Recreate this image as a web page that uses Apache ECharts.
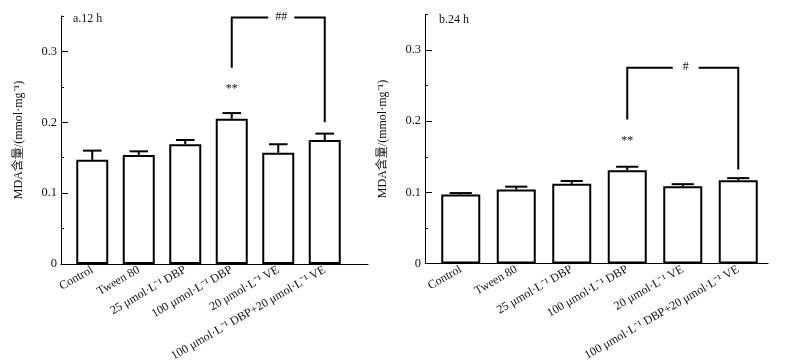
<!DOCTYPE html>
<html>
<head>
<meta charset="utf-8">
<script src="https://cdn.jsdelivr.net/npm/echarts@6/dist/echarts.min.js"></script>
<style>
  html, body { margin: 0; padding: 0; background: #fff; }
  #chart { width: 802px; height: 362px; }
</style>
</head>
<body>
<div id="chart"></div>
<script>
const groups = [
  "Control",
  "Tween 80",
  "25 μmol·L⁻¹ DBP",
  "100 μmol·L⁻¹ DBP",
  "20 μmol·L⁻¹ VE",
  "100 μmol·L⁻¹ DBP+20 μmol·L⁻¹ VE",
];
const mda12h = [0.147, 0.154, 0.169, 0.205, 0.157, 0.175];
const err12h = [0.013, 0.005, 0.006, 0.008, 0.012, 0.009];
const mda24h = [0.097, 0.104, 0.112, 0.131, 0.1085, 0.117];
const err24h = [0.002, 0.004, 0.004, 0.005, 0.003, 0.003];
const majorTicks = [0, 0.1, 0.2, 0.3];
const minorTicks = [0.05, 0.15, 0.25, 0.35];
// stars: [category, y, text]
const star12h = [[3, 0.247, "**"]];
const star24h = [[3, 0.173, "**"]];
// brackets: [from, to, top, left end, right end, text]
const bracket12h = [[3, 5, 0.348, 0.277, 0.2, "##"]];
const bracket24h = [[3, 5, 0.275, 0.2025, 0.132, "#"]];

const FONT = "Liberation Serif, Noto Sans CJK SC, serif";
const INK = "#111";

var myChart = echarts.init(document.getElementById("chart"));

// one panel = bar grid + a grid that only draws the longer x axis line
const panels = [
  { title: "a.12 h", titleX: 73, titleY: 13, barLeft: 69, barWidthPx: 279, lineLeft: 61, lineWidth: 307,
    top: 16, height: 248, bw: 32, mda: mda12h, err: err12h, stars: star12h, brackets: bracket12h },
  { title: "b.24 h", titleX: 439, titleY: 14, barLeft: 433, barWidthPx: 333, lineLeft: 425, lineWidth: 343,
    top: 14.5, height: 249, bw: 39, mda: mda24h, err: err24h, stars: star24h, brackets: bracket24h },
];

var grid = [], xAxis = [], yAxis = [], series = [], title = [];

panels.forEach((p, k) => {
  const g = grid.length;
  grid.push({ left: p.barLeft, top: p.top, width: p.barWidthPx, height: p.height, outerBoundsMode: "none", containLabel: false });
  grid.push({ left: p.lineLeft, top: p.top, width: p.lineWidth, height: p.height, outerBoundsMode: "none", containLabel: false });

  title.push({
    text: p.title, left: p.titleX, top: p.titleY, padding: 0,
    textStyle: { fontFamily: FONT, fontSize: 12, fontWeight: "normal", color: INK },
  });

  const xi = xAxis.length;
  xAxis.push({
    type: "category", gridIndex: g, data: groups,
    axisLine: { show: false }, axisTick: { show: false },
    axisLabel: { interval: 0, rotate: 30, margin: 5, fontFamily: FONT, fontSize: 12, color: INK },
  });
  xAxis.push({
    type: "value", gridIndex: g + 1, min: 0, max: 1,
    axisLine: { show: true, lineStyle: { color: "#000", width: 1 } },
    axisTick: { show: false }, axisLabel: { show: false }, splitLine: { show: false },
  });

  const yi = yAxis.length;
  yAxis.push({
    type: "value", gridIndex: g, min: 0, max: 0.35, offset: 8,
    name: "MDA含量/(mmol·mg⁻¹)", nameLocation: "middle", nameGap: 36,
    nameTextStyle: { fontFamily: FONT, fontSize: 12, color: INK },
    axisLine: { show: true, lineStyle: { color: "#000", width: 1 } },
    axisTick: { show: true, inside: true, length: 7, customValues: majorTicks, lineStyle: { color: "#000" } },
    axisLabel: { customValues: majorTicks, margin: 4, fontFamily: FONT, fontSize: 12.5, color: INK,
      formatter: (v) => (v === 0 ? "0" : v.toFixed(1)) },
    splitLine: { show: false },
  });
  yAxis.push({
    type: "value", gridIndex: g, min: 0, max: 0.35, offset: 8, position: "left",
    axisLine: { show: false },
    axisTick: { show: true, inside: true, length: 3, customValues: minorTicks, lineStyle: { color: "#000" } },
    axisLabel: { show: false }, splitLine: { show: false },
  });
  yAxis.push({ type: "value", gridIndex: g + 1, show: false });

  series.push({
    type: "bar", xAxisIndex: xi, yAxisIndex: yi, barWidth: p.bw,
    itemStyle: { color: "#fff", borderColor: "#000", borderWidth: 2 },
    data: p.mda, z: 2,
  });

  // error bars (upper only)
  series.push({
    type: "custom", xAxisIndex: xi, yAxisIndex: yi, z: 3,
    data: p.mda.map((v, i) => [i, v, p.err[i]]),
    renderItem: (params, api) => {
      const i = api.value(0), v = api.value(1), e = api.value(2);
      const a = api.coord([i, v]);
      const b = api.coord([i, v + e]);
      const half = api.size([1, 0])[0] * 0.2;
      const st = { stroke: "#000", lineWidth: 2 };
      return {
        type: "group",
        children: [
          { type: "line", shape: { x1: a[0], y1: a[1], x2: b[0], y2: b[1] }, style: st },
          { type: "line", shape: { x1: b[0] - half, y1: b[1], x2: b[0] + half, y2: b[1] }, style: st },
        ],
      };
    },
  });

  // stars over the bar
  series.push({
    type: "custom", xAxisIndex: xi, yAxisIndex: yi, z: 4,
    data: p.stars.map((s) => [s[0], s[1]]),
    renderItem: (params, api) => {
      const c = api.coord([api.value(0), api.value(1)]);
      return {
        type: "text",
        style: { x: c[0], y: c[1], text: p.stars[params.dataIndex][2], align: "center", verticalAlign: "middle",
          fontFamily: FONT, fontSize: 12, fill: INK },
      };
    },
  });

  // comparison bracket
  series.push({
    type: "custom", xAxisIndex: xi, yAxisIndex: yi, z: 4,
    data: p.brackets.map((b) => b.slice(0, 5)),
    renderItem: (params, api) => {
      const l0 = api.coord([api.value(0), api.value(3)]);
      const l1 = api.coord([api.value(0), api.value(2)]);
      const r1 = api.coord([api.value(1), api.value(2)]);
      const r0 = api.coord([api.value(1), api.value(4)]);
      const mid = (l1[0] + r1[0]) / 2 + 3;
      const gap = 13;
      const st = { stroke: "#000", lineWidth: 2, fill: null };
      return {
        type: "group",
        children: [
          { type: "polyline", shape: { points: [l0, l1, [mid - gap, l1[1]]] }, style: st },
          { type: "polyline", shape: { points: [[mid + gap, r1[1]], r1, r0] }, style: st },
          { type: "text", style: { x: mid, y: l1[1] - 1, text: p.brackets[params.dataIndex][5], align: "center",
            verticalAlign: "middle", fontFamily: FONT, fontSize: 12, fill: INK } },
        ],
      };
    },
  });
});

var option = {
  animation: false,
  backgroundColor: "#fff",
  title: title,
  grid: grid,
  xAxis: xAxis,
  yAxis: yAxis,
  series: series,
};

myChart.setOption(option);
</script>
</body>
</html>
